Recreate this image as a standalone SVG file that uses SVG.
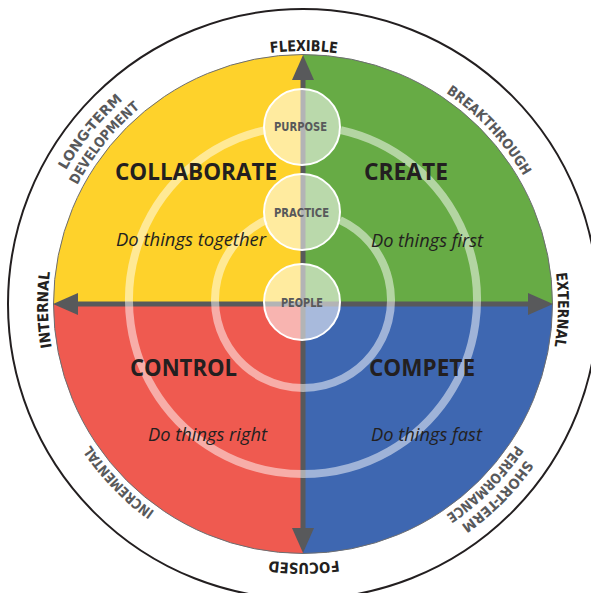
<svg xmlns="http://www.w3.org/2000/svg" xmlns:xlink="http://www.w3.org/1999/xlink" width="591" height="593" viewBox="0 0 591 593">
<style>
.title{font-family:"Open Sans","Noto Sans",sans-serif;font-weight:700;font-size:24px;fill:#231f20;text-anchor:middle}
.sub{font-family:"Open Sans","Noto Sans",sans-serif;font-style:italic;font-size:17.5px;fill:#231f20;text-anchor:middle}
.clabel{font-family:"DejaVu Sans Condensed","DejaVu Sans",sans-serif;font-stretch:condensed;font-weight:700;font-size:12px;fill:#58595b;text-anchor:middle}
.axis-label{font-family:"DejaVu Sans Condensed","DejaVu Sans",sans-serif;font-stretch:condensed;font-weight:700;font-size:15px;fill:#231f20}
.arc-label{font-family:"DejaVu Sans Condensed","DejaVu Sans",sans-serif;font-stretch:condensed;font-weight:700;font-size:14px;fill:#58595b}
.ring{fill:none;stroke:#ffffff;stroke-opacity:0.5;stroke-width:8}
.bubble{fill:#ffffff;fill-opacity:0.55;stroke:#ffffff;stroke-width:2}
.axis{stroke:#58595b;stroke-width:5;fill:none}
</style>
<defs>
<marker id="arrow" markerUnits="userSpaceOnUse" markerWidth="26" markerHeight="24" refX="0" refY="11" orient="auto-start-reverse" viewBox="0 0 26 22">
<path d="M0,0 L25,11 L0,22 Z" fill="#58595b"/>
</marker>
<path id="r253" d="M0,253 A253,253 0 1,1 0,-253 A253,253 0 1,1 0,253"/>
<path id="r255" d="M0,255 A255,255 0 1,1 0,-255 A255,255 0 1,1 0,255"/>
<path id="r259" d="M0,259 A259,259 0 1,1 0,-259 A259,259 0 1,1 0,259"/>
<path id="r272" d="M0,272 A272,272 0 1,1 0,-272 A272,272 0 1,1 0,272"/>
</defs>

<circle id="outer-ring" cx="303" cy="304" r="295" fill="#ffffff" stroke="#231f20" stroke-width="2"/>

<g id="collaborate">
<path d="M303,304 L53.5,304 A249.5,249.5 0 0,1 303,54.5 Z" fill="#fed22b"/>
</g>
<g id="create">
<path d="M303,304 L303,54.5 A249.5,249.5 0 0,1 552.5,304 Z" fill="#67ab45"/>
</g>
<g id="compete">
<path d="M303,304 L552.5,304 A249.5,249.5 0 0,1 303,553.5 Z" fill="#3e67b1"/>
</g>
<g id="control">
<path d="M303,304 L303,553.5 A249.5,249.5 0 0,1 53.5,304 Z" fill="#ef5a50"/>
</g>
<circle cx="303" cy="304" r="249.5" fill="none" stroke="#6d6e71" stroke-width="1"/>

<g id="connectors">
<line class="axis" x1="303" y1="80" x2="303" y2="528" marker-start="url(#arrow)" marker-end="url(#arrow)"/>
<line class="axis" x1="78" y1="304" x2="528" y2="304" marker-start="url(#arrow)" marker-end="url(#arrow)"/>
</g>

<g id="rings">
<path class="ring" d="M340.8,130.15 A174,174 0 1,1 265.2,130.15"/>
<path class="ring" d="M340.06,220.2 A88,88 0 1,1 265.94,220.2"/>
</g>

<g id="quadrant-texts">
<text class="title" x="196" y="180" textLength="162" lengthAdjust="spacingAndGlyphs">COLLABORATE</text>
<text class="sub" x="191" y="246" textLength="150" lengthAdjust="spacingAndGlyphs">Do things together</text>
<text class="title" x="406" y="180" textLength="84" lengthAdjust="spacingAndGlyphs">CREATE</text>
<text class="sub" x="427" y="247" textLength="112" lengthAdjust="spacingAndGlyphs">Do things first</text>
<text class="title" x="183.5" y="376" textLength="107" lengthAdjust="spacingAndGlyphs">CONTROL</text>
<text class="sub" x="207.5" y="441" textLength="119" lengthAdjust="spacingAndGlyphs">Do things right</text>
<text class="title" x="422" y="376" textLength="106" lengthAdjust="spacingAndGlyphs">COMPETE</text>
<text class="sub" x="426.5" y="441" textLength="111" lengthAdjust="spacingAndGlyphs">Do things fast</text>
</g>

<g id="purpose">
<circle class="bubble" cx="302" cy="127" r="38"/>
<text class="clabel" x="300.5" y="131" textLength="53" lengthAdjust="spacingAndGlyphs">PURPOSE</text>
</g>
<g id="practice">
<circle class="bubble" cx="302" cy="212" r="38"/>
<text class="clabel" x="301.5" y="217" textLength="55" lengthAdjust="spacingAndGlyphs">PRACTICE</text>
</g>
<g id="people">
<circle class="bubble" cx="302" cy="302" r="38"/>
<text class="clabel" x="302" y="307" textLength="42" lengthAdjust="spacingAndGlyphs">PEOPLE</text>
</g>

<g id="flexible" transform="translate(303,304) rotate(0.2)">
<text class="axis-label"><textPath xlink:href="#r253" href="#r253" startOffset="50%" text-anchor="middle" textLength="67" lengthAdjust="spacingAndGlyphs">FLEXIBLE</textPath></text>
</g>
<g id="external" transform="translate(303,304) rotate(91.3)">
<text class="axis-label"><textPath xlink:href="#r255" href="#r255" startOffset="50%" text-anchor="middle" textLength="74" lengthAdjust="spacingAndGlyphs">EXTERNAL</textPath></text>
</g>
<g id="focused" transform="translate(303,304) rotate(179.8)">
<text class="axis-label"><textPath xlink:href="#r259" href="#r259" startOffset="50%" text-anchor="middle" textLength="70" lengthAdjust="spacingAndGlyphs">FOCUSED</textPath></text>
</g>
<g id="internal" transform="translate(303,304) rotate(268.7)">
<text class="axis-label"><textPath xlink:href="#r255" href="#r255" startOffset="50%" text-anchor="middle" textLength="76" lengthAdjust="spacingAndGlyphs">INTERNAL</textPath></text>
</g>

<g id="breakthrough" transform="translate(303,304) rotate(47)">
<text class="arc-label"><textPath xlink:href="#r255" href="#r255" startOffset="50%" text-anchor="middle" textLength="115" lengthAdjust="spacingAndGlyphs">BREAKTHROUGH</textPath></text>
</g>
<g id="long-term-development" transform="translate(303,304) rotate(-51)">
<text class="arc-label"><textPath xlink:href="#r272" href="#r272" startOffset="50%" text-anchor="middle" textLength="91" lengthAdjust="spacingAndGlyphs">LONG-TERM</textPath></text>
<text class="arc-label"><textPath xlink:href="#r255" href="#r255" startOffset="50%" text-anchor="middle" textLength="100" lengthAdjust="spacingAndGlyphs">DEVELOPMENT</textPath></text>
</g>
<g id="incremental" transform="translate(303,304) rotate(226)">
<text class="arc-label"><textPath xlink:href="#r255" href="#r255" startOffset="50%" text-anchor="middle" textLength="93" lengthAdjust="spacingAndGlyphs">INCREMENTAL</textPath></text>
</g>
<g id="short-term-performance" transform="translate(303,304) rotate(134.7)">
<text class="arc-label"><textPath xlink:href="#r272" href="#r272" startOffset="50%" text-anchor="middle" textLength="93" lengthAdjust="spacingAndGlyphs">SHORT-TERM</textPath></text>
<text class="arc-label"><textPath xlink:href="#r255" href="#r255" startOffset="50%" text-anchor="middle" textLength="100" lengthAdjust="spacingAndGlyphs">PERFORMANCE</textPath></text>
</g>
</svg>
